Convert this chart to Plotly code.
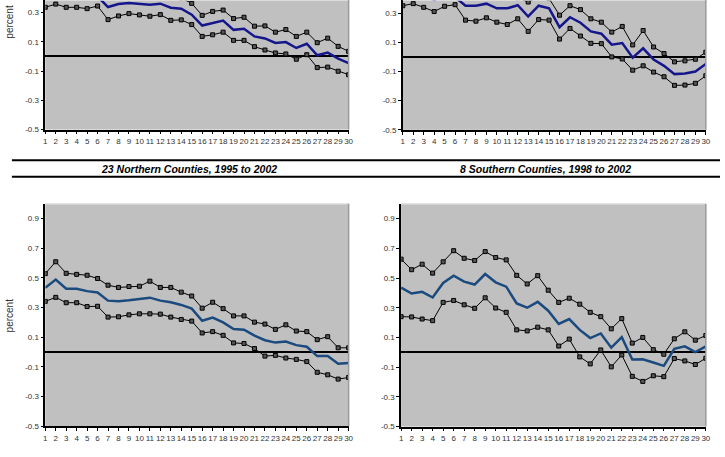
import plotly.graph_objects as go

W, H = 725, 457

x = list(range(1, 31))
tick_vals = [-0.5, -0.3, -0.1, 0.1, 0.3, 0.5, 0.7, 0.9]
tick_text = ["-0.5", "-0.3", "-0.1", "0.1", "0.3", "0.5", "0.7", "0.9"]

# Panel A (top-left, cropped at top)
a_upper = [0.50, 0.53, 0.50, 0.50, 0.49, 0.50, 0.42, 0.44, 0.45, 0.44, 0.44, 0.44, 0.41, 0.40, 0.363,
           0.281, 0.308, 0.317, 0.259, 0.268, 0.207, 0.209, 0.166, 0.184, 0.137, 0.166, 0.094, 0.125, 0.069, 0.035]
a_mid = [0.42, 0.45, 0.42, 0.42, 0.41, 0.41, 0.338, 0.358, 0.365, 0.358, 0.354, 0.361, 0.333, 0.327, 0.286,
         0.211, 0.229, 0.245, 0.182, 0.189, 0.137, 0.123, 0.092, 0.098, 0.058, 0.087, 0.008, 0.026, -0.015, -0.046]
a_lower = [0.336, 0.358, 0.336, 0.336, 0.327, 0.345, 0.252, 0.277, 0.293, 0.284, 0.275, 0.286, 0.247, 0.250, 0.218,
           0.137, 0.148, 0.166, 0.110, 0.110, 0.067, 0.044, 0.024, 0.017, -0.019, 0.012, -0.076, -0.073, -0.101, -0.125]

# Panel B (top-right, cropped at top)
b_upper = [0.50, 0.52, 0.50, 0.47, 0.50, 0.51, 0.43, 0.43, 0.45, 0.42, 0.41, 0.405, 0.376, 0.41, 0.40,
           0.286, 0.351, 0.324, 0.261, 0.238, 0.170, 0.209, 0.082, 0.181, 0.068, 0.023, -0.034, -0.027, -0.016, 0.032]
b_mid = [0.43, 0.44, 0.42, 0.39, 0.42, 0.41, 0.351, 0.351, 0.365, 0.333, 0.333, 0.354, 0.277, 0.351, 0.333,
         0.204, 0.272, 0.234, 0.175, 0.159, 0.084, 0.095, -0.005, 0.059, -0.018, -0.061, -0.118, -0.113, -0.100, -0.048]
b_lower = [0.351, 0.365, 0.340, 0.311, 0.347, 0.358, 0.252, 0.245, 0.268, 0.238, 0.222, 0.261, 0.175, 0.256, 0.252,
           0.122, 0.195, 0.143, 0.093, 0.091, 0.000, -0.014, -0.091, -0.061, -0.104, -0.136, -0.195, -0.193, -0.181, -0.129]

# Panel C: 23 Northern Counties, 1995 to 2002
c_upper = [0.529, 0.609, 0.531, 0.524, 0.518, 0.496, 0.451, 0.436, 0.442, 0.444, 0.478, 0.436, 0.436, 0.404, 0.378,
           0.296, 0.336, 0.293, 0.244, 0.244, 0.202, 0.189, 0.153, 0.184, 0.142, 0.138, 0.084, 0.104, 0.029, 0.029]
c_mid = [0.433, 0.489, 0.427, 0.427, 0.411, 0.402, 0.347, 0.342, 0.349, 0.356, 0.367, 0.347, 0.336, 0.318, 0.293,
         0.211, 0.233, 0.200, 0.156, 0.151, 0.111, 0.080, 0.064, 0.071, 0.047, 0.036, -0.027, -0.027, -0.078, -0.073]
c_lower = [0.342, 0.369, 0.333, 0.333, 0.307, 0.309, 0.236, 0.238, 0.251, 0.258, 0.258, 0.256, 0.236, 0.220, 0.209,
           0.129, 0.138, 0.113, 0.062, 0.058, 0.024, -0.027, -0.022, -0.040, -0.049, -0.064, -0.136, -0.153, -0.182, -0.171]

# Panel D: 8 Southern Counties, 1998 to 2002
d_upper = [0.627, 0.556, 0.593, 0.533, 0.609, 0.684, 0.633, 0.618, 0.678, 0.638, 0.622, 0.518, 0.460, 0.516, 0.418,
           0.336, 0.364, 0.324, 0.269, 0.240, 0.158, 0.227, 0.062, 0.100, 0.018, -0.013, 0.091, 0.138, 0.082, 0.113]
d_mid = [0.436, 0.396, 0.407, 0.369, 0.467, 0.516, 0.476, 0.456, 0.527, 0.471, 0.442, 0.329, 0.300, 0.340, 0.280,
         0.191, 0.224, 0.151, 0.096, 0.127, 0.031, 0.102, -0.049, -0.047, -0.069, -0.091, 0.024, 0.040, 0.002, 0.040]
d_lower = [0.240, 0.238, 0.224, 0.213, 0.336, 0.349, 0.320, 0.296, 0.367, 0.298, 0.269, 0.151, 0.144, 0.169, 0.151,
           0.042, 0.089, -0.031, -0.078, 0.016, -0.098, -0.018, -0.162, -0.196, -0.158, -0.164, -0.042, -0.058, -0.082, -0.040]

titles = ["23 Northern Counties, 1995 to 2002", "8 Southern Counties, 1998 to 2002"]

def px_x(p):
    return p / W

def px_y(p):
    return 1 - p / H

panels = [
    ("", (43.7, 350.0), (0, 131), [-0.5, 0.386], a_upper, a_mid, a_lower, "#16168c"),
    ("2", (404.7, 710.7), (0, 131.3), [-0.5, 0.39], b_upper, b_mid, b_lower, "#16168c"),
    ("3", (43.7, 350.0), (206, 431), [-0.5, 1.0], c_upper, c_mid, c_lower, "#1a4a7e"),
    ("4", (403.0, 710.7), (206, 431.3), [-0.5, 1.0], d_upper, d_mid, d_lower, "#1a4a7e"),
]

fig = go.Figure()
layout = dict(
    width=W, height=H,
    margin=dict(l=0, r=0, t=0, b=0),
    paper_bgcolor="white",
    plot_bgcolor="#c0c0c0",
    showlegend=False,
    font=dict(family="Liberation Sans, Arial, sans-serif", size=8, color="#333333"),
)
shapes = []
annotations = []

for suf, (x0, x1), (yt, yb), yr, up, mid, lo, mc in panels:
    xa = "x" + suf
    ya = "y" + suf
    for series, color, width, marker in [(up, "black", 1, True), (lo, "black", 1, True), (mid, mc, 2.5, False)]:
        fig.add_trace(go.Scatter(
            x=x, y=series, xaxis=xa, yaxis=ya,
            mode="lines+markers" if marker else "lines",
            line=dict(color=color, width=width),
            marker=dict(symbol="square", size=4, color="#555555", line=dict(color="black", width=1)),
            cliponaxis=True,
        ))
    layout["xaxis" + suf] = dict(
        domain=[px_x(x0), px_x(x1)], anchor=ya, range=[1, 30],
        tickmode="array", tickvals=x, ticktext=[str(v) for v in x], tickangle=0,
        showgrid=False, zeroline=False, showline=True, linecolor="black", linewidth=1.5,
        ticks="outside", ticklen=3, tickcolor="black", tickfont=dict(size=8, color="#333333"),
    )
    layout["yaxis" + suf] = dict(
        domain=[px_y(yb), px_y(yt)], anchor=xa, range=yr,
        tickmode="array", tickvals=tick_vals, ticktext=tick_text,
        showgrid=False, zeroline=True, zerolinecolor="black", zerolinewidth=1.5,
        showline=True, linecolor="black", linewidth=1.5,
        ticks="outside", ticklen=3, tickcolor="black", tickfont=dict(size=8, color="#333333"),
    )
    shapes.append(dict(type="line", xref=xa + " domain", yref=ya + " domain", x0=0, x1=1, y0=1, y1=1,
                       line=dict(color="#e4e4e4", width=1.5)))
    shapes.append(dict(type="line", xref=xa + " domain", yref=ya + " domain", x0=1, x1=1, y0=0, y1=1,
                       line=dict(color="#9a9a9a", width=1.5)))

for yc in (22, 319):
    annotations.append(dict(text="percent", x=px_x(8), y=px_y(yc), xref="paper", yref="paper",
                            textangle=-90, showarrow=False, xanchor="center", yanchor="middle",
                            font=dict(size=10, color="#333333")))

for cx, t in zip((188.5, 548.5), titles):
    annotations.append(dict(text="<b><i>" + t + "</i></b>", x=px_x(cx), y=px_y(170.5), xref="paper", yref="paper",
                            showarrow=False, xanchor="center", yanchor="middle",
                            font=dict(size=10.5, color="black", family="Liberation Sans, Arial, sans-serif")))
for yl in (162, 178.7):
    shapes.append(dict(type="line", xref="paper", yref="paper", x0=px_x(10), x1=1, y0=px_y(yl), y1=px_y(yl),
                       line=dict(color="black", width=2)))

layout["shapes"] = shapes
layout["annotations"] = annotations
fig.update_layout(**layout)
fig.write_html("out.html")
